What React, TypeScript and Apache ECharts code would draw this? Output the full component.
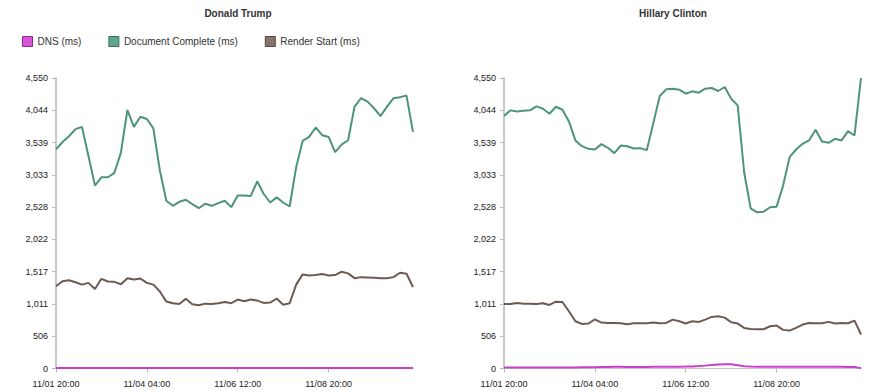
import React, { useEffect, useRef } from 'react';
import * as echarts from 'echarts';

// 4-hourly samples starting 11/01 20:00
const START_DAY = 1;
const START_HOUR = 20;
const STEP_HOURS = 4;
const POINT_COUNT = 56;
const pad = (n: number) => (n < 10 ? '0' + n : '' + n);
const categories: string[] = Array.from({ length: POINT_COUNT }, (_, i) => {
  const h = START_HOUR + STEP_HOURS * i;
  return `11/${pad(START_DAY + Math.floor(h / 24))} ${pad(h % 24)}:00`;
});

const titles = ['Donald Trump', 'Hillary Clinton'];
const seriesNames = ['DNS (ms)', 'Document Complete (ms)', 'Render Start (ms)'];

const trumpDns = [9, 8, 8, 9, 8, 8, 8, 9, 8, 8, 8, 9, 8, 8, 8, 8, 9, 8, 8, 8, 8, 8, 9, 8, 8, 8, 8, 8, 9, 8, 8, 8, 8, 9, 8, 8, 8, 8, 9, 8, 8, 8, 8, 8, 9, 8, 8, 8, 8, 8, 9, 8, 8, 8, 8, 7];
const trumpDocComplete = [3433, 3548, 3638, 3749, 3785, 3327, 2864, 2995, 2995, 3065, 3381, 4049, 3785, 3943, 3907, 3760, 3101, 2627, 2548, 2611, 2643, 2575, 2512, 2580, 2548, 2591, 2627, 2527, 2710, 2708, 2700, 2932, 2733, 2600, 2680, 2600, 2537, 3153, 3565, 3627, 3775, 3654, 3627, 3390, 3507, 3575, 4101, 4234, 4180, 4076, 3954, 4101, 4234, 4250, 4275, 3706];
const trumpRenderStart = [1287, 1367, 1383, 1351, 1314, 1341, 1245, 1405, 1362, 1357, 1319, 1415, 1394, 1410, 1341, 1314, 1207, 1048, 1022, 1011, 1091, 1006, 990, 1016, 1011, 1022, 1043, 1022, 1080, 1054, 1080, 1064, 1027, 1032, 1096, 1000, 1022, 1314, 1474, 1458, 1463, 1479, 1458, 1463, 1516, 1490, 1415, 1431, 1426, 1421, 1415, 1415, 1431, 1500, 1485, 1277];

const clintonDns = [15, 16, 16, 17, 16, 16, 17, 16, 16, 17, 16, 17, 18, 18, 20, 22, 24, 26, 26, 25, 24, 24, 25, 26, 27, 27, 28, 29, 30, 33, 38, 45, 55, 63, 68, 66, 52, 35, 30, 28, 28, 27, 27, 28, 27, 27, 26, 27, 27, 26, 27, 27, 26, 25, 22, 6];
const clintonDocComplete = [3953, 4043, 4027, 4037, 4043, 4105, 4069, 3990, 4100, 4053, 3870, 3572, 3482, 3440, 3430, 3514, 3456, 3373, 3493, 3482, 3446, 3451, 3420, 3843, 4267, 4372, 4382, 4367, 4304, 4341, 4320, 4382, 4393, 4346, 4409, 4225, 4121, 3074, 2509, 2446, 2456, 2525, 2535, 2865, 3310, 3430, 3519, 3572, 3739, 3556, 3535, 3598, 3572, 3718, 3650, 4550];
const clintonRenderStart = [1011, 1011, 1027, 1016, 1016, 1011, 1021, 995, 1047, 1042, 896, 740, 698, 704, 771, 719, 714, 714, 709, 693, 709, 709, 709, 719, 709, 714, 766, 740, 704, 740, 730, 766, 808, 818, 797, 724, 704, 636, 620, 615, 615, 662, 672, 605, 594, 636, 688, 714, 709, 709, 730, 704, 714, 709, 750, 532];

const Y_MIN = 0;
const Y_MAX = 4550;
const Y_SPLITS = 9;
const LABEL_EVERY = 14;

const FONT = "'Liberation Sans', Arial, sans-serif";
const lineColors = ['#c93fc9', '#4e9476', '#6d5a54'];
const legendFill = ['#d955d9', '#5fa98b', '#86736c'];
const legendBorder = ['#8a2d8a', '#3b6e5b', '#574640'];

const gridLefts = [56, 504];
const GRID_WIDTH = 357;

export default function App() {
  const ref = useRef<HTMLDivElement>(null);
  useEffect(() => {
    if (!ref.current) return;
    const chart = echarts.init(ref.current, undefined, { renderer: 'svg' });
    const data = [
      [trumpDns, trumpDocComplete, trumpRenderStart],
      [clintonDns, clintonDocComplete, clintonRenderStart],
    ];
    const xAxes = gridLefts.map((_, gi) => ({
      type: 'category',
      gridIndex: gi,
      data: categories,
      boundaryGap: false,
      axisLine: { show: true, lineStyle: { color: '#c8c8c8', width: 1 } },
      axisTick: { show: true, interval: LABEL_EVERY - 1, length: 4, lineStyle: { color: '#bbb' } },
      axisLabel: {
        interval: LABEL_EVERY - 1,
        fontSize: 9,
        fontFamily: FONT,
        color: '#222',
        margin: 11,
      },
      splitLine: { show: false },
    }));
    const yAxes = gridLefts.map((_, gi) => ({
      type: 'value',
      gridIndex: gi,
      min: Y_MIN,
      max: Y_MAX,
      interval: (Y_MAX - Y_MIN) / Y_SPLITS,
      axisLine: { show: true, lineStyle: { color: '#c8c8c8', width: 2 } },
      axisTick: { show: true, length: 4, lineStyle: { color: '#bbb' } },
      axisLabel: {
        fontSize: 9,
        fontFamily: FONT,
        color: '#222',
        margin: 8,
        formatter: (v: number) => Math.round(v).toLocaleString('en-US'),
      },
      splitLine: { show: false },
    }));
    const series: any[] = [];
    data.forEach((group, gi) => {
      group.forEach((values, si) => {
        series.push({
          type: 'line',
          name: seriesNames[si],
          xAxisIndex: gi,
          yAxisIndex: gi,
          data: values,
          showSymbol: false,
          symbol: 'none',
          color: lineColors[si],
          lineStyle: { color: lineColors[si], width: 2 },
          z: si === 0 ? 4 : 3,
        });
      });
    });
    chart.setOption({
      animation: false,
      backgroundColor: '#fff',
      title: titles.map((t, i) => ({
        text: t,
        left: i === 0 ? 233 : 668,
        textAlign: 'center',
        top: 3,
        textStyle: { fontSize: 10, fontWeight: 'bold', fontFamily: FONT, color: '#333' },
      })),
      legend: {
        left: 17,
        top: 31,
        itemWidth: 10,
        itemHeight: 10,
        itemGap: 27,
        icon: 'rect',
        textStyle: { fontSize: 10, fontFamily: FONT, color: '#333' },
        data: seriesNames.map((n, i) => ({
          name: n,
          itemStyle: { color: legendFill[i], borderColor: legendBorder[i], borderWidth: 1 },
        })),
      },
      grid: gridLefts.map((l) => ({ left: l, width: GRID_WIDTH, top: 78, bottom: 23.5, containLabel: false })),
      xAxis: xAxes,
      yAxis: yAxes,
      series,
    } as any);
    return () => chart.dispose();
  }, []);
  return <div ref={ref} style={{ position: 'absolute', left: 0, top: 0, width: 878, height: 392 }} />;
}
